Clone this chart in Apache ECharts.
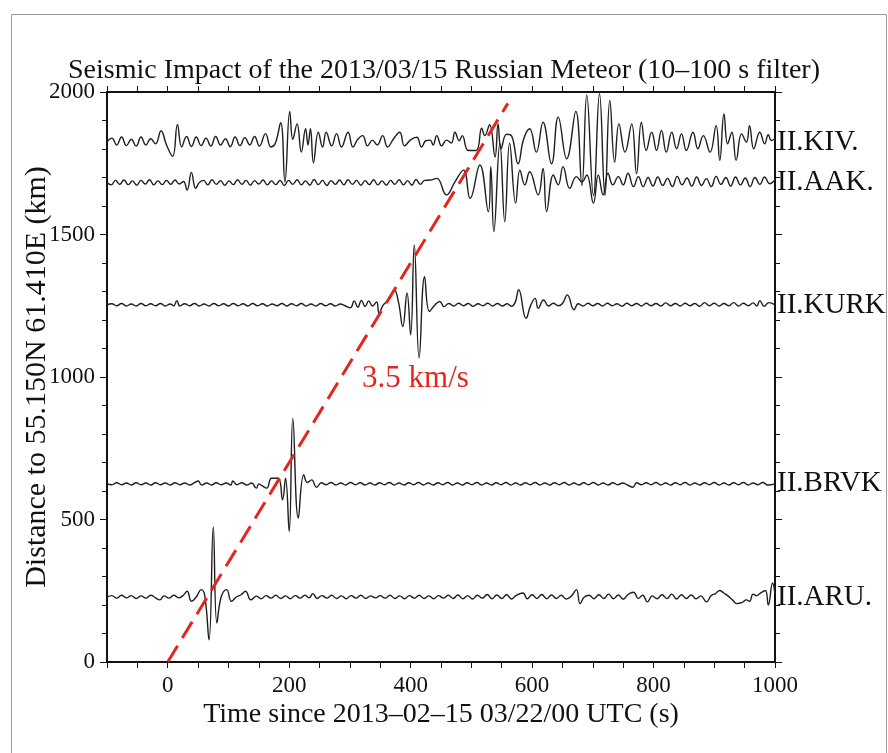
<!DOCTYPE html>
<html>
<head>
<meta charset="utf-8">
<script src="https://cdn.jsdelivr.net/npm/echarts@6/dist/echarts.min.js"></script>
<style>
html,body{margin:0;padding:0;background:#fff;}
#c{width:888px;height:753px;}
</style>
</head>
<body>
<div id="c"></div>
<script>
// ---- data ----
const stationNames = ['II.KIV.', 'II.AAK.', 'II.KURK', 'II.BRVK', 'II.ARU.'];
const baselines = [1824, 1682, 1253, 625, 228]; // km
// traces: [time (s), offset from baseline (km)]
const kiv = [[-100,0],[-92,14],[-84,-10],[-76,18],[-68,-12],[-60,10],[-52,-14],[-44,18],[-36,-10],[-28,12],[-20,-6],[-11,40],[-2,-10],[8,-50],[16,62],[23,-17],[31,20],[39,-15],[47,18],[55,-12],[63,14],[71,-14],[79,20],[87,-10],[95,12],[103,-16],[111,18],[119,-12],[127,16],[135,-10],[143,20],[151,-14],[161,30],[170,-17],[177,-5],[186,68],[193,-140],[201,108],[206,10],[213,64],[220,-35],[227,47],[231,-10],[235,47],[240,-72],[248,35],[255,-17],[261,35],[270,-13],[278,30],[286,-17],[297,35],[305,-17],[313,10],[321,23],[329,-13],[337,7],[345,-10],[354,23],[362,-17],[372,12],[382,35],[390,-13],[400,8],[410,17],[418,-17],[425,5],[432,7],[437,-10],[443,23],[451,-13],[459,7],[467,-3],[473,35],[480,5],[485,23],[495,-29],[508,-29],[517,49],[522,23],[530,61],[539,-52],[544,64],[549,-23],[558,28],[566,23],[577,-76],[586,10],[596,47],[607,-35],[618,70],[632,-76],[643,88],[657,-58],[672,108],[682,-152],[690,166],[701,-187],[711,170],[720,-187],[728,146],[736,-70],[743,64],[753,-35],[764,64],[772,-111],[780,70],[788,-29],[797,35],[805,-29],[813,41],[821,-35],[830,35],[838,-23],[846,29],[854,-29],[865,35],[873,-23],[882,23],[893,-35],[903,58],[909,-64],[916,99],[922,-6],[929,35],[936,-64],[945,29],[953,0],[958,58],[965,-23],[975,35],[983,-6],[989,26],[994,6],[1000,12]];
const aak = [[-100,0],[-93,-8],[-86,8],[-79,-6],[-72,9],[-65,-7],[-58,6],[-51,-9],[-44,8],[-37,-5],[-30,10],[-23,-8],[-16,6],[-9,-7],[-2,8],[5,-6],[12,9],[19,-5],[26,4],[32,-26],[39,36],[46,-20],[52,0],[59,8],[66,-8],[73,10],[80,-6],[87,7],[94,-9],[101,6],[108,-7],[115,10],[122,-6],[129,8],[136,-9],[143,7],[150,-5],[157,9],[164,-8],[171,6],[178,-7],[185,8],[192,-10],[199,8],[206,-6],[213,10],[220,-8],[227,6],[234,-9],[241,11],[248,-7],[255,8],[262,-10],[269,7],[276,-6],[283,9],[290,-8],[297,10],[304,-6],[311,8],[318,-9],[325,7],[332,-7],[339,10],[346,-8],[353,6],[360,-9],[367,8],[374,-6],[381,10],[388,-8],[395,7],[402,-9],[409,11],[416,-6],[423,8],[432,9],[443,15],[459,-43],[473,3],[487,44],[498,-55],[514,62],[528,-102],[532,56],[537,-172],[547,138],[555,-137],[563,138],[573,-72],[580,44],[588,-8],[596,38],[610,-43],[618,50],[624,-102],[635,27],[643,-8],[651,56],[662,-20],[673,21],[682,3],[690,27],[701,-72],[709,27],[717,-43],[725,33],[733,-8],[742,21],[750,-8],[758,33],[767,-14],[775,21],[783,-14],[791,18],[799,-12],[807,20],[815,-10],[823,15],[831,-14],[839,22],[847,-8],[855,16],[863,-12],[871,20],[879,-10],[887,14],[895,-14],[903,22],[911,-6],[919,18],[927,-12],[935,20],[943,-8],[951,16],[959,-14],[967,18],[975,-6],[983,20],[991,-4],[1000,10]];
const kurk = [[-100,0],[-92,4],[-84,-3],[-76,5],[-68,-4],[-60,3],[-52,-4],[-44,5],[-36,-3],[-28,4],[-20,-3],[-12,5],[-4,-4],[4,3],[10,-3],[15,15],[20,-4],[28,4],[36,-3],[44,5],[52,-4],[60,3],[68,-4],[76,5],[84,-3],[92,4],[100,-4],[108,5],[116,-3],[124,4],[132,-4],[140,5],[148,-3],[156,4],[164,-4],[172,3],[180,-3],[188,5],[196,-4],[204,4],[212,-3],[220,5],[228,-4],[236,3],[244,-4],[252,5],[260,-3],[268,4],[276,-4],[284,3],[292,-3],[301,-10],[307,14],[313,-8],[319,16],[325,-6],[331,14],[337,-4],[344,10],[348,-29],[355,0],[365,20],[373,53],[380,10],[387,-76],[394,42],[400,-105],[406,210],[414,-186],[423,99],[431,-23],[440,0],[448,12],[455,-6],[463,5],[471,-4],[479,6],[487,-3],[495,5],[503,-5],[511,4],[519,-3],[527,6],[535,-4],[543,5],[551,-4],[559,4],[566,-5],[572,8],[578,53],[590,-47],[598,0],[605,23],[610,-12],[619,17],[627,-4],[635,6],[643,-3],[650,5],[658,35],[669,-17],[676,4],[684,-4],[692,6],[700,-3],[708,5],[716,-4],[724,6],[732,-3],[740,4],[748,-5],[756,6],[764,-3],[772,5],[780,-4],[788,6],[796,-3],[804,5],[812,-4],[820,7],[828,-3],[836,5],[844,-4],[852,6],[860,-3],[868,5],[876,-5],[884,8],[892,-3],[900,6],[908,-4],[916,5],[924,-3],[932,8],[940,-4],[948,6],[956,-3],[964,7],[970,-4],[975,15],[982,-5],[990,8],[1000,0]];
const brvk = [[-100,0],[-92,-3],[-84,4],[-76,-3],[-68,3],[-60,-4],[-52,4],[-44,-3],[-36,3],[-28,-4],[-20,4],[-12,-3],[-4,3],[4,-4],[12,4],[20,-3],[28,3],[36,-4],[44,4],[50,10],[56,-4],[64,3],[72,-4],[80,4],[88,-3],[96,3],[104,-4],[107,10],[114,-3],[122,4],[130,-4],[138,3],[146,-15],[150,0],[155,-6],[163,-15],[171,20],[182,20],[189,-56],[194,20],[200,-167],[206,230],[215,-120],[224,32],[230,5],[237,14],[245,-12],[253,4],[261,-3],[269,5],[277,-4],[285,3],[293,-4],[301,5],[309,-3],[317,4],[325,-4],[333,3],[341,-4],[349,4],[357,-3],[365,5],[373,-4],[381,3],[389,-4],[397,4],[405,-3],[413,5],[421,-4],[429,3],[437,-4],[445,4],[453,-3],[461,5],[469,-4],[477,3],[485,-4],[493,4],[501,-3],[509,5],[517,-4],[525,3],[533,-4],[541,4],[549,-3],[557,5],[565,-4],[573,3],[581,-4],[589,4],[597,-3],[605,5],[613,-4],[621,3],[629,-4],[637,4],[645,-3],[653,5],[661,-4],[669,3],[677,-4],[685,4],[693,-3],[701,5],[709,-4],[717,3],[725,-4],[733,4],[741,-3],[749,3],[757,-4],[766,-12],[772,4],[780,-3],[788,4],[796,-3],[804,5],[812,-4],[820,3],[828,-4],[836,4],[844,-3],[852,5],[860,-4],[868,3],[876,-4],[884,4],[892,-3],[900,5],[908,-4],[916,3],[924,-4],[932,4],[940,-3],[948,5],[956,-4],[964,3],[972,-3],[980,5],[988,-4],[1000,0]];
const aru = [[-100,0],[-92,5],[-84,-4],[-76,6],[-68,-3],[-60,5],[-52,-5],[-44,4],[-36,-4],[-28,6],[-20,-3],[-13,-10],[-6,4],[2,-4],[10,6],[18,-3],[25,5],[32,20],[39,-15],[47,0],[55,26],[61,5],[68,-150],[75,246],[81,-91],[88,0],[97,26],[105,-15],[113,0],[121,8],[128,20],[137,-10],[146,3],[154,-6],[162,5],[170,-4],[178,6],[186,-5],[194,4],[202,-6],[210,5],[218,-4],[226,6],[233,-3],[239,12],[246,-5],[254,5],[262,-4],[270,6],[278,-5],[286,4],[294,-6],[302,5],[310,-4],[318,6],[326,-5],[334,4],[342,-3],[350,5],[358,-4],[366,6],[374,-5],[382,4],[390,-6],[398,5],[406,-4],[414,6],[422,-5],[430,4],[438,-6],[446,5],[454,-4],[462,6],[470,-5],[478,7],[486,-6],[494,5],[502,-7],[510,6],[518,-4],[526,9],[534,-6],[542,7],[550,-5],[558,8],[566,-7],[574,6],[585,14],[592,-6],[600,8],[608,-5],[616,9],[624,-6],[632,7],[640,-5],[648,6],[656,-7],[665,4],[673,26],[679,-23],[686,0],[694,6],[702,-6],[710,8],[718,-5],[726,10],[734,-6],[742,7],[750,-8],[758,9],[767,17],[775,-5],[782,6],[790,-17],[798,4],[806,-6],[814,8],[822,-5],[830,10],[838,-7],[846,8],[854,-5],[862,7],[870,-6],[878,4],[887,-17],[895,5],[902,12],[909,23],[915,15],[922,5],[930,-10],[937,-23],[945,-20],[953,-10],[958,-15],[964,10],[970,5],[975,12],[984,23],[989,-28],[996,49],[1000,10]];
const traces = [kiv, aak, kurk, brvk, aru];
const speedLine = [[0, 0], [560, 1960]];  // 3.5 km/s
const speedText = '3.5 km/s';
const speedTextAt = [408, 993];
const xTicks = [0, 200, 400, 600, 800, 1000];
const titleText = 'Seismic Impact of the 2013/03/15 Russian Meteor (10\u2013100 s filter)';
const xName = 'Time since 2013\u201302\u201315 03/22/00 UTC (s)';
const yName = 'Distance to 55.150N 61.410E (km)';

// ---- chart ----
const FONT = '"Liberation Serif", "Times New Roman", serif';
const INK = '#111';
const chart = echarts.init(document.getElementById('c'), null, {renderer: 'canvas'});

const series = traces.map((tr, i) => ({
  type: 'line',
  data: tr.map(p => [p[0], baselines[i] + p[1]]),
  showSymbol: false,
  smooth: 0.45,
  lineStyle: {color: '#1e1e1e', width: 1.4},
  silent: true,
  z: 3
}));
series.push({
  type: 'line',
  data: speedLine,
  showSymbol: false,
  lineStyle: {color: '#e3261e', width: 3, type: [19, 9]},
  silent: true,
  z: 4
});
series.push({
  type: 'scatter',
  data: baselines.map((b, i) => ({value: [1000, b], label: {formatter: stationNames[i]}})),
  symbolSize: 0,
  itemStyle: {opacity: 1},
  label: {show: true, position: 'right', distance: 2, color: INK, fontFamily: FONT, fontSize: 29},
  silent: true
});
series.push({
  type: 'scatter',
  data: [{value: speedTextAt}],
  symbolSize: 0,
  itemStyle: {opacity: 1},
  label: {show: true, position: 'inside', formatter: speedText, color: '#e3261e', fontFamily: FONT, fontSize: 31},
  silent: true
});

const xCommon = {
  type: 'value', min: -100, max: 1000, interval: 50,
  axisLine: {show: true, onZero: false, lineStyle: {color: INK, width: 2}},
  axisTick: {show: true, length: 6, lineStyle: {color: INK, width: 1}},
  splitLine: {show: false}
};
const yCommon = {
  type: 'value', min: 0, max: 2000, interval: 500,
  axisLine: {show: true, onZero: false, lineStyle: {color: INK, width: 2}},
  axisTick: {show: true, length: 7, lineStyle: {color: INK, width: 1}},
  minorTick: {show: true, splitNumber: 5, length: 5, lineStyle: {color: INK, width: 1}},
  splitLine: {show: false}, minorSplitLine: {show: false}
};

chart.setOption({
  animation: false,
  backgroundColor: '#fff',
  title: {
    text: titleText, left: 439, top: 52, textAlign: 'center',
    textStyle: {fontFamily: FONT, fontWeight: 'normal', fontSize: 28, color: INK}
  },
  grid: {left: 107, top: 92, width: 668, height: 570},
  xAxis: [
    Object.assign({}, xCommon, {
      position: 'bottom',
      axisLabel: {show: true, margin: 12, color: INK, fontFamily: FONT, fontSize: 23,
        formatter: v => xTicks.indexOf(v) >= 0 ? String(v) : ''},
      name: xName, nameLocation: 'middle', nameGap: 39, nameMoveOverlap: false,
      nameTextStyle: {fontFamily: FONT, fontSize: 28, color: INK}
    }),
    Object.assign({}, xCommon, {position: 'top', axisLabel: {show: false}})
  ],
  yAxis: [
    Object.assign({}, yCommon, {
      position: 'left',
      axisLabel: {show: true, margin: 12, color: INK, fontFamily: FONT, fontSize: 23,
        formatter: v => String(v)},
      name: yName, nameLocation: 'middle', nameGap: 55, nameRotate: 90, nameMoveOverlap: false,
      nameTextStyle: {fontFamily: FONT, fontSize: 30, color: INK}
    }),
    Object.assign({}, yCommon, {position: 'right', axisLabel: {show: false}})
  ],
  graphic: [{
    type: 'rect', left: 9, top: 12, silent: true,
    shape: {width: 875, height: 760},
    style: {fill: 'none', stroke: '#9a9a9a', lineWidth: 1}
  }],
  series: series
});
</script>
</body>
</html>
